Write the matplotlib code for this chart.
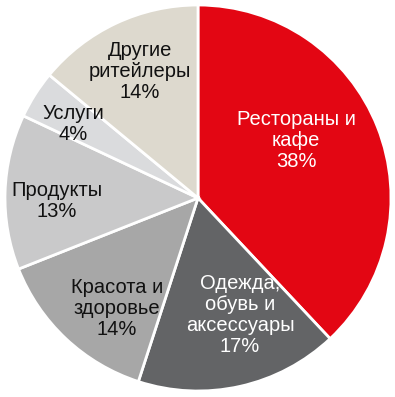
import numpy as np
import matplotlib.pyplot as plt

plt.rcParams['font.family'] = ['Liberation Sans', 'DejaVu Sans']

# data
labels = ['Рестораны и\nкафе', 'Одежда,\nобувь и\nаксессуары', 'Красота и\nздоровье',
          'Продукты', 'Услуги', 'Другие\nритейлеры']
shares = [38, 17, 14, 13, 4, 14]

colors = ['#E30613', '#636466', '#A7A7A7', '#C9C9CA', '#DADBDD', '#DDD9CE']
text_colors = ['white', 'white', '#111111', '#111111', '#111111', '#111111']
# label placement: radius (fraction of pie radius) and angle shift in degrees
label_r = [0.59, 0.645, 0.71, 0.73, 0.75, 0.72]
label_shift = [8.8, 7.1, 6.8, 3.0, 1.8, -0.5]

fig = plt.figure(figsize=(3.95, 3.97), dpi=100)
ax = fig.add_axes([0, 0, 1, 1])
ax.axis('off')

wedges, _ = ax.pie(shares, colors=colors, startangle=90, counterclock=False,
                   radius=1.0, center=(0, 0),
                   wedgeprops=dict(edgecolor='white', linewidth=2.0))

for w, lab, s, tc, r, sh in zip(wedges, labels, shares, text_colors, label_r, label_shift):
    ang = np.deg2rad((w.theta1 + w.theta2) / 2 + sh)
    ax.text(r * np.cos(ang), r * np.sin(ang), f'{lab}\n{s}%',
            ha='center', va='center', color=tc, fontsize=14.5, linespacing=1.12)

ax.set_xlim(-198 / 193, 197 / 193)
ax.set_ylim(-199 / 193, 198 / 193)
ax.set_aspect('equal')

fig.savefig('out.png', dpi=100)
